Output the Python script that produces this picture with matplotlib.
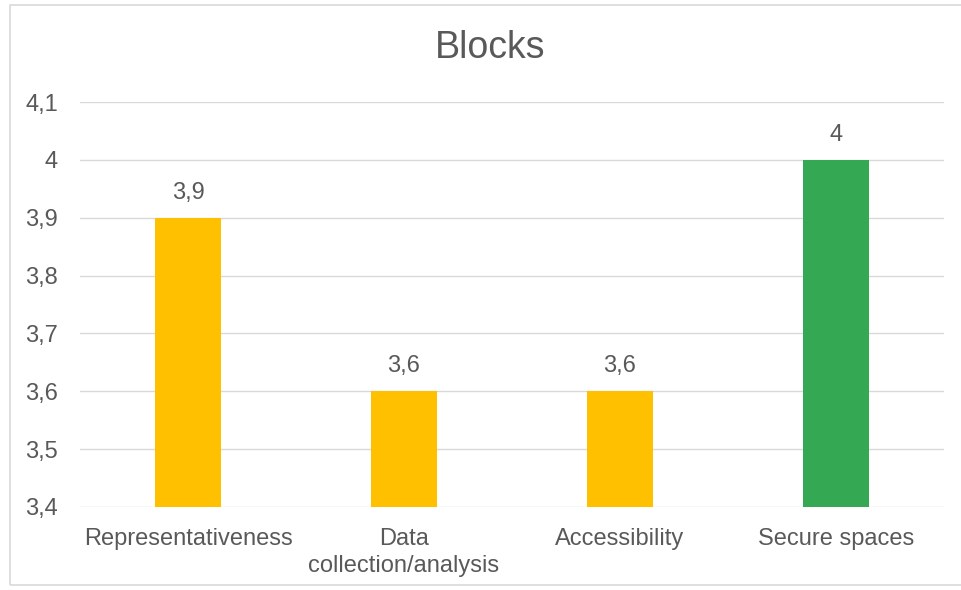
import matplotlib
matplotlib.use("Agg")
import matplotlib.pyplot as plt
from matplotlib.patches import Rectangle
import numpy as np

# data
categories = ["Representativeness", "Data\ncollection/analysis", "Accessibility", "Secure spaces"]
values = [3.9, 3.6, 3.6, 4.0]
bar_colors = ["#FFC000", "#FFC000", "#FFC000", "#34A853"]
y_ticks = [3.4, 3.5, 3.6, 3.7, 3.8, 3.9, 4.0, 4.1]

def comma(v):
    s = ("%.1f" % v).replace(".", ",")
    if s.endswith(",0"):
        s = s[:-2]
    return s

plt.rcParams['font.family'] = ['Liberation Sans', 'DejaVu Sans']
text_col = "#595959"

fig = plt.figure(figsize=(9.61, 5.90), dpi=100)
fig.patches.append(Rectangle((10/961, 5/590), 1.2, (585-5)/590, transform=fig.transFigure,
                             fill=False, edgecolor="#D9D9D9", linewidth=1.2))
ax = fig.add_axes([80/961, 1-507/590, (944-80)/961, (507-102)/590])

x = np.arange(len(categories))
ax.bar(x, values, width=0.31, color=bar_colors, zorder=3)
ax.set_ylim(3.4, 4.1)
ax.set_xlim(-0.5, 3.5)

ax.set_yticks(y_ticks)
ax.set_yticklabels([comma(v) for v in y_ticks])
ax.set_xticks(x)
ax.set_xticklabels(categories, linespacing=1.3)
ax.tick_params(axis='y', length=0, pad=16, labelsize=17, labelcolor=text_col)
ax.tick_params(axis='x', length=0, pad=15, labelsize=17, labelcolor=text_col)
ax.grid(axis='y', color="#D9D9D9", linewidth=1, zorder=0)
for s in ax.spines.values():
    s.set_visible(False)

for xi, v in zip(x, values):
    ax.annotate(comma(v), (xi, v), xytext=(0, 10), textcoords='offset points',
                ha='center', va='bottom', fontsize=17, color=text_col)

fig.text(490/961, 1-48/590, "Blocks", ha='center', va='center', fontsize=27, color=text_col)

fig.savefig("out.png", dpi=100)
